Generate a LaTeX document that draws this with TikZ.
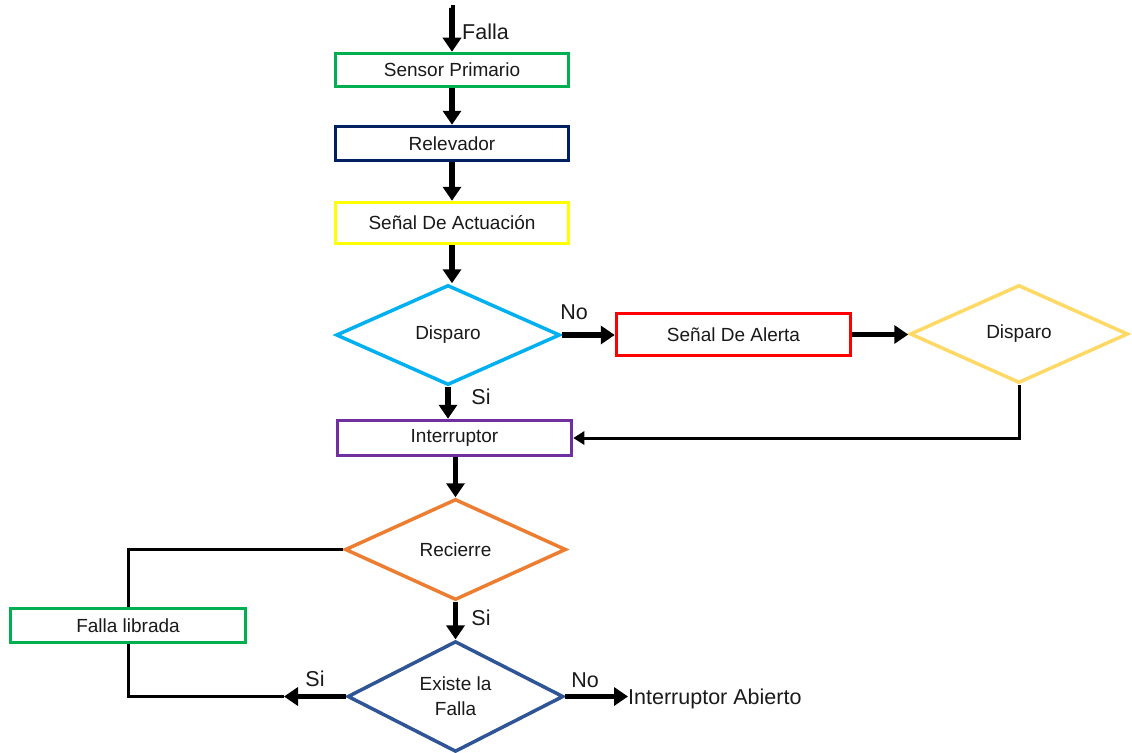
\documentclass[tikz,border=0pt]{standalone}
\usepackage{fontspec}
\setmainfont{Liberation Sans}
\usetikzlibrary{positioning,calc,arrows.meta,shapes.geometric}
\definecolor{sgreen}{HTML}{00B050}
\definecolor{navy}{HTML}{002060}
\definecolor{yelw}{HTML}{FFFF00}
\definecolor{sky}{HTML}{00B0F0}
\definecolor{alrt}{HTML}{FF0000}
\definecolor{gold}{HTML}{FFD966}
\definecolor{purp}{HTML}{7030A0}
\definecolor{orng}{HTML}{ED7D31}
\definecolor{steel}{HTML}{2F5597}
\definecolor{ink}{HTML}{1A1A1A}
\tikzset{
  blk/.style    ={draw, line width=3.5pt, fill=white, text=ink, inner sep=0pt,
                  minimum width=233pt, minimum height=33pt,
                  font=\fontsize{19}{21}\selectfont},
  dec/.style    ={diamond, draw, line width=3.5pt, fill=white, text=ink, inner sep=0pt,
                  align=center, font=\fontsize{19}{25}\selectfont},
  flow/.style   ={-{Triangle[length=14pt,width=18pt]}, line width=5.5pt, draw=black},
  back/.style   ={-{Triangle[length=11pt,width=13pt]}, line width=3pt, draw=black},
  wire/.style   ={line width=3pt, draw=black},
  lab/.style    ={font=\fontsize{21.5}{24}\selectfont, text=ink, inner sep=0pt},
}

\begin{document}
\begin{tikzpicture}[x=1pt,y=-1pt]
  \useasboundingbox (0,0) rectangle (1132,752);

  % ---- main chain ----
  \coordinate (in) at (451,8);
  \node[blk, draw=sgreen] (sensor) at (452,70)    {Sensor Primario};
  \node[blk, draw=navy, minimum height=34pt] (relev) at (452,143.5) {Relevador};
  \node[blk, draw=yelw, minimum height=41pt] (senal) at (452,223)  {Señal De Actuación};
  \draw[flow] (in) -- (sensor.north |- in) -- (sensor.north);
  \node[lab, anchor=west] (falla) at (462,32) {Falla};
  \draw[flow] (sensor.south) -- (relev.north);
  \draw[flow] (relev.south) -- (senal.north);

  % ---- first trip check ----
  \node[dec, draw=sky, minimum width=224pt, minimum height=100pt] (disp1) at (448,335) {Disparo};
  \draw[flow] (senal.south) -- (senal.south |- disp1.north);
  \node[blk, draw=alrt, minimum width=234pt, minimum height=42pt] (alerta) at (733.5,334.5) {Señal De Alerta};
  \node[dec, draw=gold, minimum width=218pt, minimum height=98pt] (disp2) at (1019,334) {Disparo};
  \draw[flow] (disp1.east) -- (disp1.east -| alerta.west);
  \node[lab] (no1) at (574,312) {No};
  \draw[flow] (alerta.east) -- (alerta.east -| disp2.west);

  % ---- breaker ----
  \node[blk, draw=purp, minimum width=234pt, minimum height=35pt] (interr) at (454.5,438) {Interruptor};
  \draw[flow] (disp1.south) -- (disp1.south |- interr.north);
  \node[lab] (si1) at (481,397) {Si};
  \draw[back] (disp2.south) |- (interr.east);

  % ---- reclosing ----
  \node[dec, draw=orng, minimum width=221pt, minimum height=101pt] (recierre) at (455.5,549.5) {Recierre};
  \draw[flow] (interr.south -| recierre.north) -- (recierre.north);
  \node[blk, draw=sgreen, minimum width=235pt, minimum height=34pt] (librada) at (128,625.5) {Falla librada};
  \draw[wire] (recierre.west) -| (librada.north);

  \node[dec, draw=steel, minimum width=216pt, minimum height=99pt] (existe) at (455.5,696.5) {Existe la\\Falla};
  \draw[flow] (recierre.south) -- (existe.north);
  \node[lab] (si2) at (481,618) {Si};

  % ---- outcomes ----
  \coordinate (siend) at (284,696.5);
  \draw[wire] (librada.south) |- (siend);
  \draw[flow] (existe.west) -- (siend);
  \node[lab] (si3) at (315,679) {Si};
  \node[lab, anchor=west] (abierto) at (628,699) {Interruptor Abierto};
  \draw[flow] (existe.east) -- (existe.east -| abierto.west);
  \node[lab] (no2) at (585,680) {No};

\end{tikzpicture}
\end{document}
